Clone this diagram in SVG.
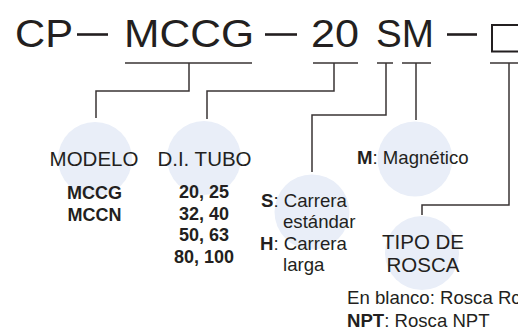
<svg xmlns="http://www.w3.org/2000/svg" width="518" height="329" viewBox="0 0 518 329">
<style>
.t{font-family:"Liberation Sans",Arial,sans-serif;fill:#231f20}
.h{font-size:20.5px;text-anchor:middle}
.b{font-size:18px;font-weight:bold;text-anchor:middle}
.s{font-size:18.6px}
.big{font-size:38px}
.c{fill:#e9eef8}
.ln{fill:none;stroke:#3a3435;stroke-width:1.5}
.dash{fill:#231f20}
</style>
<rect width="518" height="329" fill="#ffffff"/>
<g id="title">
<text class="t big" x="15" y="46.5" textLength="58" lengthAdjust="spacingAndGlyphs">CP</text>
<rect class="dash" x="77" y="33.2" width="31" height="2.6"/>
<text class="t big" x="124" y="46.5" textLength="130" lengthAdjust="spacingAndGlyphs">MCCG</text>
<rect class="dash" x="265" y="33.2" width="32" height="2.6"/>
<text class="t big" x="311" y="46.5" textLength="48" lengthAdjust="spacingAndGlyphs">20</text>
<text class="t big" x="376" y="46.5" textLength="58" lengthAdjust="spacingAndGlyphs">SM</text>
<rect class="dash" x="447" y="33.2" width="30" height="2.6"/>
<rect x="492" y="25" width="40" height="26.5" fill="none" stroke="#231f20" stroke-width="2"/>
</g>
<g id="connectors">
<path class="ln" d="M125 63H252M313 63H358M377 63H393M402 63H431M490 63H520"/>
<path class="ln" d="M189 63V91H96V118"/>
<path class="ln" d="M334 63V91H207V119"/>
<path class="ln" d="M386 63V115H312V172"/>
<path class="ln" d="M416 63V120"/>
<path class="ln" d="M509 63V205H422V215"/>
</g>
<g id="modelo">
<circle class="c" cx="95" cy="159" r="37"/>
<text class="t h" x="94" y="166">MODELO</text>
<text class="t b" x="94.5" y="199">MCCG</text>
<text class="t b" x="94.5" y="221">MCCN</text>
</g>
<g id="tubo">
<circle class="c" cx="204" cy="158" r="37"/>
<text class="t h" x="204.5" y="166">D.I. TUBO</text>
<text class="t b" x="204" y="198">20, 25</text>
<text class="t b" x="204" y="220">32, 40</text>
<text class="t b" x="204" y="241">50, 63</text>
<text class="t b" x="204" y="263">80, 100</text>
</g>
<g id="carrera">
<circle class="c" cx="312" cy="212" r="37.5"/>
<text class="t s" x="261" y="207"><tspan font-weight="bold">S</tspan>: Carrera</text>
<text class="t s" x="283" y="228">estándar</text>
<text class="t s" x="260" y="250"><tspan font-weight="bold">H</tspan>: Carrera</text>
<text class="t s" x="283" y="271">larga</text>
</g>
<g id="magnetico">
<circle class="c" cx="415" cy="159" r="37.5"/>
<text class="t s" x="357" y="164"><tspan font-weight="bold">M</tspan>: Magnético</text>
</g>
<g id="rosca">
<circle class="c" cx="422" cy="253" r="37"/>
<text class="t h" x="423" y="249">TIPO DE</text>
<text class="t h" x="423" y="272">ROSCA</text>
<text class="t s" x="347" y="304">En blanco: Rosca Rc</text>
<text class="t s" x="347" y="326.5"><tspan font-weight="bold">NPT</tspan>: Rosca NPT</text>
</g>
</svg>
